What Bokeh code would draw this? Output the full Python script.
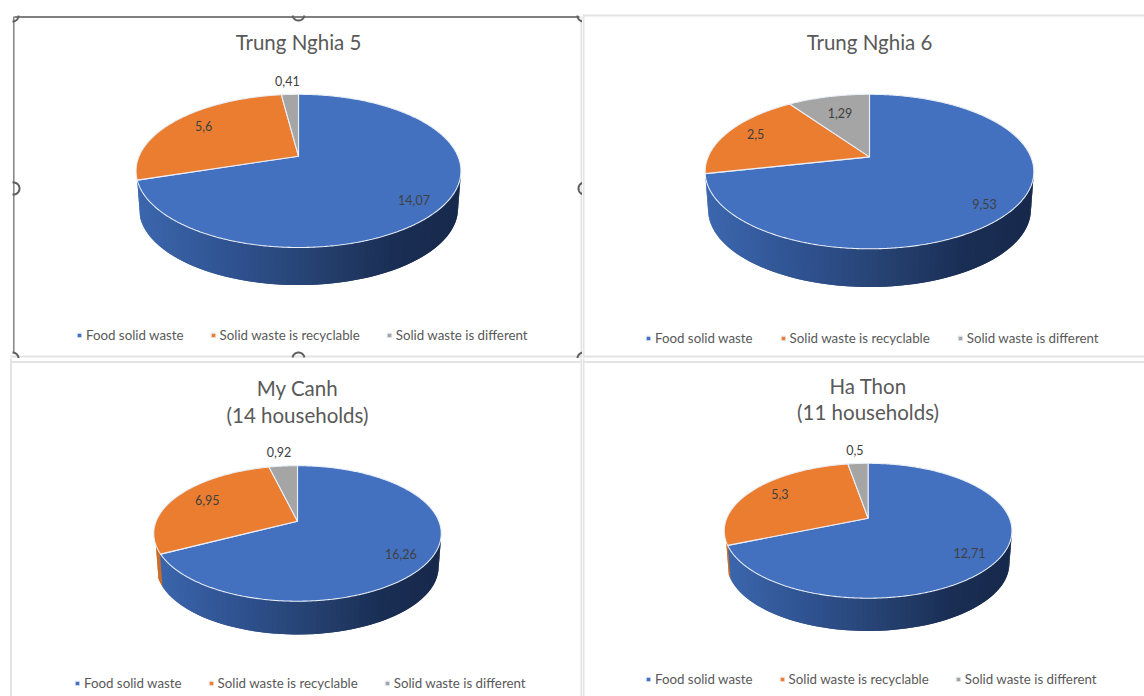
import math
from bokeh.plotting import figure
from bokeh.layouts import column, row
from bokeh.models import ColumnDataSource, Legend, LegendItem, Range1d
from bokeh.core.properties import value
from bokeh.embed import file_html
from bokeh.resources import INLINE

# ---- data ----
series_names = ["Food solid waste", "Solid waste is recyclable", "Solid waste is different"]
titles = [["Trung Nghia 5"], ["Trung Nghia 6"], ["My Canh", "(14 households)"], ["Ha Thon", "(11 households)"]]
food = [14.07, 9.53, 16.26, 12.71]
recyclable = [5.6, 2.5, 6.95, 5.3]
different = [0.41, 1.29, 0.92, 0.5]

# ---- layout (page pixels) ----
panel_x = [(-8, 582), (582, 1144), (-8, 582), (582, 1144)]
panel_y = [(-8, 358), (-8, 358), (358, 696), (358, 696)]
apex_x = [298, 869, 297, 867.6]
apex_y = [155.7, 156.4, 520.7, 517.7]
rim_top = [93.8, 93.8, 465.2, 462.8]
rim_bottom = [247, 248.3, 600.7, 597.7]
rim_left = [135.9, 704.7, 153, 723.7]
rim_right = [460.8, 1033.4, 440.5, 1011.4]
wall_bottom = [284.6, 286.5, 634, 630.5]
title_y = [[41], [41], [387, 414], [385, 411]]
label_radius = [[0.84, 0.76, 1.22], [0.85, 0.8, 0.66], [0.82, 0.74, 1.27], [0.82, 0.76, 1.25]]
label_nudge_x = [-4, 0, -1]
label_nudge_y = [3, -2, -2]
legend_x = [76, 645, 74, 645]
legend_cy = [335, 338, 683, 679]
legend_gap = [26, 27, 26, 26]
WALL_LEFT_LIMIT = math.radians(250)

COLORS = ["#4371c0", "#eb7d30", "#a5a5a5"]
WALL_STOPS = [(0.0, (60, 103, 174)), (0.3, (47, 82, 144)), (0.55, (38, 66, 114)), (0.8, (26, 46, 84)), (1.0, (23, 41, 76))]
ORANGE_WALL = "#c96f2a"
TEXT = "#595959"
LABEL = "#404040"
FONT = value("Lato")


def wall_color(t):
    for (t0, c0), (t1, c1) in zip(WALL_STOPS, WALL_STOPS[1:]):
        if t <= t1:
            f = (t - t0) / (t1 - t0)
            return "#%02x%02x%02x" % tuple(round(a + (b - a) * f) for a, b in zip(c0, c1))
    return "#172a4e"


def arc_xy(cx, cy, r, a0, a1):
    n = 24
    xs = [cx + r * math.cos(math.radians(a0 + (a1 - a0) * i / n)) for i in range(n + 1)]
    ys = [cy + r * math.sin(math.radians(a0 + (a1 - a0) * i / n)) for i in range(n + 1)]
    return xs, ys


def panel(i):
    x0, x1 = panel_x[i]
    y0, y1 = panel_y[i]
    p = figure(width=x1 - x0, height=y1 - y0, x_range=Range1d(x0, x1), y_range=Range1d(y1, y0),
               toolbar_location=None, output_backend="svg", min_border=0,
               outline_line_color=None, background_fill_color="white", border_fill_color="white")
    p.axis.visible = False
    p.grid.visible = False

    # frame chrome
    light = "#e3e3e3"
    if i == 0:
        p.segment([581], [16], [581], [358], line_color=light, line_width=2)
        p.segment([10], [356], [582], [356], line_color=light, line_width=2)
        p.segment([14], [16.5], [579], [16.5], line_color="#808080", line_width=2)
        p.segment([13.3], [16], [13.3], [353], line_color="#7a7a7a", line_width=1.4)
        for cx, cy, a0, a1 in [(13, 188, -100, 100), (584, 188, 100, 260), (298, 14, 10, 170),
                               (298, 358, 190, 350), (12, 15, 0, 90), (583, 15, 90, 180),
                               (12, 358, 270, 360), (583, 358, 180, 270)]:
            xs, ys = arc_xy(cx, cy, 6, a0, a1)
            p.line(xs, ys, line_color="#5f5f5f", line_width=2)
    elif i == 1:
        p.segment([583], [14], [583], [358], line_color=light, line_width=2)
        p.segment([582], [15], [1144], [15], line_color=light, line_width=2)
        p.segment([582], [356], [1144], [356], line_color=light, line_width=2)
    elif i == 2:
        p.segment([10.5], [358], [10.5], [696], line_color=light, line_width=2)
        p.segment([581], [358], [581], [696], line_color=light, line_width=2)
        p.segment([10], [361.5], [582], [361.5], line_color=light, line_width=2)
    else:
        p.segment([583], [358], [583], [696], line_color=light, line_width=2)
        p.segment([582], [361.5], [1144], [361.5], line_color=light, line_width=2)

    # projection of the tilted disc
    cx, cy = apex_x[i], apex_y[i]
    up, down = cy - rim_top[i], rim_bottom[i] - cy
    k = (down - up) / (down + up)
    B = up * (1 + k)
    a = (rim_right[i] - rim_left[i]) / 2
    A = a * math.sqrt(1 - k * k)

    def project(theta, r=1.0):
        u, v = r * math.sin(theta), r * math.cos(theta)
        w = 1 + k * v
        return cx + A * u / w, cy - B * v / w

    vals = [food[i], recyclable[i], different[i]]
    total = sum(vals)
    bounds = [0.0]
    for v in vals:
        bounds.append(bounds[-1] + v / total * 2 * math.pi)

    # wall: overlapping strips painted right to left hide the seams
    depth = wall_bottom[i] - rim_bottom[i]
    shrink = 0.982
    t_right = math.acos(-k)
    t_left = max(WALL_LEFT_LIMIT, bounds[1])
    n = 90
    dt = (t_left - t_right) / n
    wx, wy, wc = [], [], []
    for s in range(n):
        a0 = t_right + dt * s
        a1 = min(t_left, a0 + dt * 2)
        xa, ya = project(a0)
        xb, yb = project(a1)
        xc, xd = cx + (xb - cx) * shrink, cx + (xa - cx) * shrink
        wx.append([xa, xb, xc, xd])
        wy.append([ya, yb, yb + depth, ya + depth])
        am = a0 + dt / 2
        wc.append(wall_color((xa - rim_left[i]) / (2 * a)) if am < bounds[1] else ORANGE_WALL)
    p.patches(xs="x", ys="y", fill_color="c", line_color=None,
              source=ColumnDataSource(dict(x=wx, y=wy, c=wc)))

    # top slices
    renderers = []
    for s in range(3):
        steps = max(2, int((bounds[s + 1] - bounds[s]) / 0.01))
        pts = [project(bounds[s] + (bounds[s + 1] - bounds[s]) * j / steps) for j in range(steps + 1)]
        xs = [cx] + [q[0] for q in pts]
        ys = [cy] + [q[1] for q in pts]
        r = p.patch(xs, ys, fill_color=COLORS[s], line_color="#e9eef7", line_width=1.1)
        renderers.append(r)

    # data labels
    lx, ly, lt = [], [], []
    for s in range(3):
        x, y = project((bounds[s] + bounds[s + 1]) / 2, label_radius[i][s])
        lx.append(x + label_nudge_x[s])
        ly.append(y + label_nudge_y[s])
        lt.append(str(vals[s]).replace(".", ","))
    p.text(lx, ly, text=lt, text_font=FONT, text_font_size="12.5px", text_color=LABEL,
           text_align="center", text_baseline="middle")

    # title
    p.text([cx] * len(titles[i]), title_y[i], text=titles[i], text_font=FONT, text_font_size="20.5px",
           text_color=TEXT, text_align="center", text_baseline="middle")

    # legend
    legend = Legend(items=[LegendItem(label=series_names[s], renderers=[renderers[s]]) for s in range(3)],
                    orientation="horizontal", location=(legend_x[i] - x0, y1 - legend_cy[i] - 8),
                    glyph_width=6, glyph_height=6, label_standoff=4, spacing=legend_gap[i],
                    padding=0, margin=0, border_line_color=None, background_fill_alpha=0,
                    label_text_font="Lato", label_text_font_size="13.3px", label_text_color=TEXT,
                    label_height=14, label_text_baseline="middle")
    p.add_layout(legend, "center")
    return p


panels = [panel(i) for i in range(4)]
page = column(row(panels[0], panels[1], spacing=0), row(panels[2], panels[3], spacing=0), spacing=0,
              styles={"margin-left": "-8px", "margin-top": "-8px"})
open("out.html", "w").write(file_html(page, INLINE))
